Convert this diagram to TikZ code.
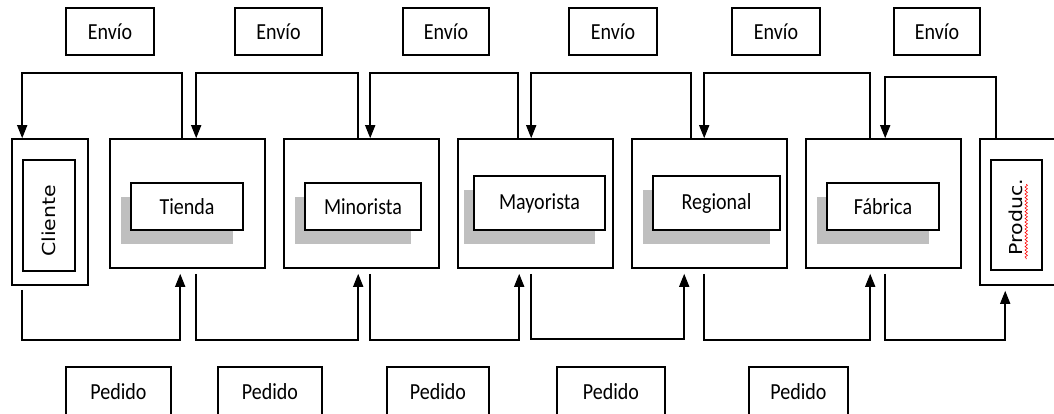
\documentclass[tikz,border=0pt]{standalone}
\usepackage{fontspec}
\usetikzlibrary{arrows.meta,calc,shadows,decorations.pathmorphing}
\newfontfamily\labelfont{Carlito}
\newfontfamily\sidefont{DejaVu Sans}
\definecolor{shadowgray}{HTML}{BFBFBF}
% horizontal labels and the two upright side labels
\newcommand\hlabel[1]{\scalebox{0.87}[1]{\fontsize{23}{26}\selectfont\labelfont #1}}
\newcommand\vlabel[1]{\scalebox{1}[0.87]{\fontsize{20.5}{24}\selectfont\sidefont #1}}
% a rectangle node given by its corners: [style]{name}{x1}{y1}{x2}{y2}{text}
\newcommand\pbox[7][]{%
  \node[frame,#1,minimum width={(#5-#3)*1pt},minimum height={(#6-#4)*1pt}]
    (#2) at ({(#3+#5)/2},{(#4+#6)/2}) {#7};}
\begin{document}
\begin{tikzpicture}[x=1pt,y=-1pt,
  frame/.style={draw,line width=1.6pt,inner sep=0pt,fill=white},
  stage/.style={general shadow={fill=shadowgray,shadow xshift=-10pt,shadow yshift=-14pt}},
  flow/.style={line width=1.6pt,-{Triangle[length=13pt,width=10pt]}}]
\clip (0,0) rectangle (1054,414);

% shipment labels
\pbox{e1}{66}{8}{154}{55}{\hlabel{Envío}}
\pbox{e2}{235}{8}{322}{55}{\hlabel{Envío}}
\pbox{e3}{403}{8}{489}{55}{\hlabel{Envío}}
\pbox{e4}{569}{8}{657}{55}{\hlabel{Envío}}
\pbox{e5}{732}{8}{820}{55}{\hlabel{Envío}}
\pbox{e6}{894}{8}{980}{55}{\hlabel{Envío}}

% order labels
\pbox{p1}{66}{367}{171}{440}{}
\pbox{p2}{218}{367}{322}{440}{}
\pbox{p3}{387}{367}{489}{440}{}
\pbox{p4}{557}{367}{665}{440}{}
\pbox{p5}{749}{367}{848}{440}{}
\foreach \n in {p1,p2,p3,p4,p5}
  \node (\n txt) at ($(\n.north)+(0,25)$) {\hlabel{Pedido}};

% customer and producer at the two ends
\pbox{cliente}{12}{139}{88}{285}{}
\pbox{clientein}{23}{160}{75}{271}{}
\node[rotate=90] (clientetxt) at (49,221) {\vlabel{Cliente}};
\pbox{produc}{980}{139}{1080}{285}{}
\pbox{producin}{991}{160}{1042}{270}{}
\node[rotate=90] (productxt) at (1016,217) {\vlabel{Produc.}};
\draw[red,line width=0.6pt,decorate,
      decoration={snake,amplitude=1.2pt,segment length=3.5pt}]
  ($(producin.north west)+(36,25)$) -- ($(producin.north west)+(36,100)$);

% supply-chain stages
\pbox{tienda}{110}{139}{265}{268}{}
\pbox{minorista}{284}{139}{439}{268}{}
\pbox{mayorista}{458}{139}{613}{268}{}
\pbox{regional}{632}{139}{787}{268}{}
\pbox{fabrica}{806}{139}{961}{268}{}

\pbox[stage]{tiendalbl}{131}{183}{243}{230}{\hlabel{Tienda}}
\pbox[stage]{minoristalbl}{305}{183}{421}{230}{\hlabel{Minorista}}
\pbox[stage]{mayoristalbl}{474}{176}{605}{230}{\hlabel{Mayorista}}
\pbox[stage]{regionallbl}{653}{176}{780}{230}{\hlabel{Regional}}
\pbox[stage]{fabricalbl}{827}{183}{939}{230}{\hlabel{Fábrica}}

% shipments flow downstream (top rail)
\draw[flow] ($(tienda.north west)+(73,0)$) -- ++(0,-65) -| ($(cliente.north west)+(11,0)$);
\draw[flow] ($(minorista.north west)+(75,0)$) -- ++(0,-65) -| ($(tienda.north west)+(87,0)$);
\draw[flow] ($(mayorista.north west)+(61,0)$) -- ++(0,-65) -| ($(minorista.north west)+(87,0)$);
\draw[flow] ($(regional.north west)+(60,0)$) -- ++(0,-65) -| ($(mayorista.north west)+(74,0)$);
\draw[flow] ($(fabrica.north west)+(65,0)$) -- ++(0,-65) -| ($(regional.north west)+(73,0)$);
\draw[flow] ($(produc.north west)+(17,0)$) -- ++(0,-61) -| ($(fabrica.north west)+(80,0)$);

% orders flow upstream (bottom rail)
\draw[flow] ($(cliente.south west)+(11,4)$) -- ++(0,50) -| ($(tienda.south west)+(71,5)$);
\draw[flow] ($(tienda.south west)+(87,5)$) -- ++(0,66) -| ($(minorista.south west)+(75,5)$);
\draw[flow] ($(minorista.south west)+(87,5)$) -- ++(0,66) -| ($(mayorista.south west)+(62,5)$);
\draw[flow] ($(mayorista.south west)+(74,5)$) -- ++(0,65) -| ($(regional.south west)+(53,5)$);
\draw[flow] ($(regional.south west)+(73,5)$) -- ++(0,66) -| ($(fabrica.south west)+(65,5)$);
\draw[flow] ($(fabrica.south west)+(80,5)$) -- ++(0,66) -| ($(produc.south west)+(26,5)$);
\end{tikzpicture}
\end{document}
